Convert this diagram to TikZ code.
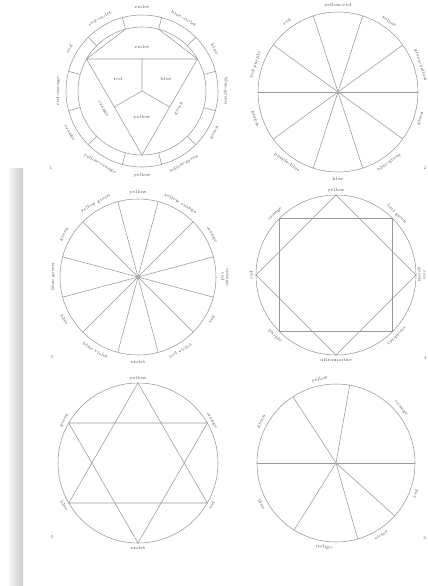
\documentclass[tikz,border=0pt]{standalone}
\usetikzlibrary{calc}
\begin{document}
\begin{tikzpicture}[x=1pt,y=1pt,
  wline/.style={draw=black!40, line width=0.55pt},
  lab/.style={text=black!70, font=\fontsize{4.5}{4.8}\selectfont, inner sep=0.5pt, align=center},
  num/.style={text=black!55, font=\fontsize{4.5}{5.2}\selectfont, inner sep=0.5pt},
  cdot/.style={circle, fill=black!60, inner sep=0pt, minimum size=1.8pt}]
\newcommand\wlab[4]{%
  \pgfmathsetmacro\labrot{sin(#2)<-0.01 ? #2+90 : #2-90}%
  \node[lab, rotate=\labrot] (#1) at (#2:#3) {#4};}
\useasboundingbox (0,0) rectangle (428,-586);
\fill[white] (0,0) rectangle (428,-586);
\shade[left color=black!4, right color=black!20] (9,-168) rectangle (23,-586);

% ---------- wheel 1 (Itten-like) ----------
\begin{scope}[shift={(142,-91)}]
  \draw[wline] (0,0) circle (76) (0,0) circle (64);
  \foreach \a in {15,45,...,345} \draw[wline] (\a:64) -- (\a:76);
  \coordinate (w1o) at (0,0);
  \coordinate (w1a) at (150:64);
  \coordinate (w1b) at (30:64);
  \coordinate (w1c) at (270:64);
  \coordinate (w1p) at (105:64);
  \coordinate (w1q) at (75:64);
  \draw[wline] (w1a) -- (w1b) -- (w1c) -- cycle;
  \draw[wline] (w1a) -- (w1p) (w1b) -- (w1q);
  \draw[wline] (w1o) -- ($(w1a)!0.5!(w1b)$) (w1o) -- ($(w1b)!0.5!(w1c)$) (w1o) -- ($(w1c)!0.5!(w1a)$);
  \wlab{w1l1}{-90}{84}{yellow}
  \wlab{w1l2}{-120}{84}{yellow-orange}
  \wlab{w1l3}{-150}{84}{orange}
  \wlab{w1l4}{180}{84}{red-orange}
  \wlab{w1l5}{150}{84}{red}
  \wlab{w1l6}{120}{84}{red-violet}
  \wlab{w1l7}{90}{84}{violet}
  \wlab{w1l8}{60}{84}{blue-violet}
  \wlab{w1l9}{30}{84}{blue}
  \wlab{w1l10}{0}{84}{blue-green}
  \wlab{w1l11}{-30}{84}{green}
  \wlab{w1l12}{-60}{84}{yellow-green}
  \node[lab] (w1i1) at (0,44) {violet};
  \node[lab] (w1i2) at (-24,12) {red};
  \node[lab] (w1i3) at (24,12) {blue};
  \node[lab] (w1i4) at (0,-26) {yellow};
  \node[lab, rotate=-60] (w1i5) at (-39,-18) {orange};
  \node[lab, rotate=60] (w1i6) at (37,-18) {green};
\end{scope}
\node[num] (n1) at (51,-168) {1};

% ---------- wheel 2 (ten hues) ----------
\begin{scope}[shift={(338,-92)}]
  \draw[wline] (0,0) circle (80);
  \node[cdot] (w2c) at (0,0) {};
  \foreach \a in {0,36,...,324} \draw[wline] (w2c) -- (\a:80);
  \wlab{w2l1}{90}{87}{yellow-red}
  \wlab{w2l2}{54}{87}{yellow}
  \wlab{w2l3}{18}{87}{green-yellow}
  \wlab{w2l4}{-18}{87}{green}
  \wlab{w2l5}{-54}{87}{blue-green}
  \wlab{w2l6}{-90}{87}{blue}
  \wlab{w2l7}{-126}{87}{purple-blue}
  \wlab{w2l8}{-162}{87}{purple}
  \wlab{w2l9}{162}{87}{red-purple}
  \wlab{w2l10}{126}{87}{red}
\end{scope}
\node[num] (n2) at (425,-168) {2};

% ---------- wheel 3 (twelve hues) ----------
\begin{scope}[shift={(138,-277)}]
  \draw[wline] (0,0) circle (78);
  \node[cdot] (w3c) at (0,0) {};
  \foreach \a in {15,45,...,345} \draw[wline] (w3c) -- (\a:78);
  \wlab{w3l1}{90}{85}{yellow}
  \wlab{w3l2}{60}{85}{yellow orange}
  \wlab{w3l3}{30}{85}{orange}
  \wlab{w3l4}{0}{87}{orange\\red}
  \wlab{w3l5}{-30}{85}{red}
  \wlab{w3l6}{-60}{85}{red violet}
  \wlab{w3l7}{-90}{85}{violet}
  \wlab{w3l8}{-120}{85}{blue violet}
  \wlab{w3l9}{-150}{85}{blue}
  \wlab{w3l10}{180}{85}{blue green}
  \wlab{w3l11}{150}{85}{green}
  \wlab{w3l12}{120}{85}{yellow green}
\end{scope}
\node[num] (n3) at (52,-357) {3};

% ---------- wheel 4 (eight hues) ----------
\begin{scope}[shift={(336,-275)}]
  \draw[wline] (0,0) circle (80);
  \foreach \k/\a in {1/0,2/90,3/180,4/270} \coordinate (w4d\k) at (\a:80);
  \foreach \k/\a in {1/45,2/135,3/225,4/315} \coordinate (w4s\k) at (\a:80);
  \draw[wline] (w4d1) -- (w4d2) -- (w4d3) -- (w4d4) -- cycle;
  \draw[wline] (w4s1) -- (w4s2) -- (w4s3) -- (w4s4) -- cycle;
  \wlab{w4l1}{90}{85}{yellow}
  \wlab{w4l2}{45}{86}{leaf green}
  \wlab{w4l3}{0}{85.5}{sea\\green}
  \wlab{w4l4}{-45}{86}{turquoise}
  \wlab{w4l5}{-90}{85}{ultramarine}
  \wlab{w4l6}{-135}{86}{purple}
  \wlab{w4l7}{180}{85}{red}
  \wlab{w4l8}{135}{86}{orange}
\end{scope}
\node[num] (n4) at (425,-358) {4};

% ---------- wheel 5 (six hues, hexagram) ----------
\begin{scope}[shift={(138,-463)}]
  \draw[wline] (0,0) circle (80);
  \foreach \k/\a in {1/90,2/30,3/-30,4/-90,5/-150,6/150} \coordinate (w5v\k) at (\a:80);
  \draw[wline] (w5v1) -- (w5v3) -- (w5v5) -- cycle;
  \draw[wline] (w5v2) -- (w5v4) -- (w5v6) -- cycle;
  \wlab{w5l1}{90}{85}{yellow}
  \wlab{w5l2}{30}{85}{orange}
  \wlab{w5l3}{-30}{85}{red}
  \wlab{w5l4}{-90}{85}{violet}
  \wlab{w5l5}{-150}{85}{blue}
  \wlab{w5l6}{150}{85}{green}
\end{scope}
\node[num] (n5) at (52,-537) {5};

% ---------- wheel 6 (Newton's seven) ----------
\begin{scope}[shift={(336,-463)}]
  \draw[wline] (0,0) circle (79);
  \node[cdot] (w6c) at (0,0) {};
  \foreach \a in {0,80,123,180,238,286,318} \draw[wline] (w6c) -- (\a:79);
  \wlab{w6l1}{-21}{85}{red}
  \wlab{w6l2}{40}{85}{orange}
  \wlab{w6l3}{101}{85}{yellow}
  \wlab{w6l4}{151}{85}{green}
  \wlab{w6l5}{209}{85}{blue}
  \wlab{w6l6}{262}{85}{indigo}
  \wlab{w6l7}{302}{85}{violet}
\end{scope}
\node[num] (n6) at (425,-538) {6};
\end{tikzpicture}
\end{document}
